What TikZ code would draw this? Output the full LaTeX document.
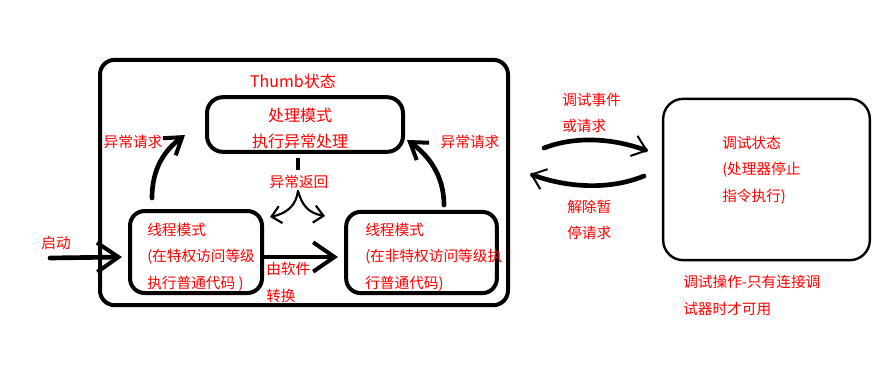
\documentclass[tikz,border=0pt]{standalone}
\usepackage{fontspec}
\newfontfamily\cjk{Noto Sans CJK SC}
\usetikzlibrary{arrows.meta}
\begin{document}
\begin{tikzpicture}[x=0.75pt,y=-0.75pt,
  frame/.style={draw=black,line width=3pt,rounded corners=11pt},
  thinframe/.style={draw=black,line width=1.8pt,rounded corners=15pt},
  label/.style={font=\cjk\fontsize{11}{20}\selectfont,text=red,inner sep=0pt,align=left},
  biglabel/.style={label,font=\cjk\fontsize{12}{20}\selectfont},
  bigarrow/.style={draw=black,line width=3.5pt,line cap=round,
    -{Straight Barb[length=16pt,width=22pt,line width=3pt]}},
  midarrow/.style={draw=black,line width=3.5pt,line cap=round,
    -{Straight Barb[length=12pt,width=16pt,line width=3pt]}},
  smallarrow/.style={draw=black,line width=1.6pt,line cap=round,
    -{Straight Barb[length=7pt,width=13pt,line width=1.6pt]}},
  dbgarrow/.style={draw=black,line width=3.5pt,line cap=round,
    -{Straight Barb[length=10pt,width=16pt,line width=1.5pt]}},
]
\useasboundingbox (0,0) rectangle (879,383);
% boxes
\node[frame,minimum width=306pt,minimum height=184pt] (thumb) at (304,182.5) {};
\node[frame,minimum width=147pt,minimum height=41pt,rounded corners=12pt] (handler) at (305,124.5) {};
\node[frame,minimum width=99pt,minimum height=61.5pt] (priv) at (196,252) {};
\node[frame,minimum width=113pt,minimum height=61pt] (unpriv) at (421.5,252.5) {};
\node[thinframe,minimum width=155pt,minimum height=121pt] (debug) at (766.5,179.5) {};
% texts
\node[biglabel] (thumbtitle) at (293,81) {Thumb状态};
\node[biglabel,align=center] (handlertext) at (300,128.5) {处理模式\\执行异常处理};
\node[label,anchor=west] (privtext) at (147,257) {线程模式\\(在特权访问等级\\执行普通代码 )};
\node[label,anchor=west] (unprivtext) at (365,257) {线程模式\\(在非特权访问等级执\\行普通代码)};
\node[label,anchor=west] (debugtext) at (722,170) {调试状态\\(处理器停止\\指令执行)};
\node[label,anchor=west] (note) at (683,295.5) {调试操作-只有连接调\\试器时才可用};
\node[label] (startlabel) at (56,243) {启动};
\node[label] (exclabelL) at (133,142) {异常请求};
\node[label] (exclabelR) at (470,142) {异常请求};
\node[label] (retlabel) at (299,182) {异常返回};
\node[label,anchor=west] (swlabel) at (266,282.5) {由软件\\转换};
\node[label,anchor=west] (dbgin) at (562,113) {调试事件\\或请求};
\node[label,anchor=west] (dbgout) at (567,220) {解除暂\\停请求};
% connector ends
\coordinate (start) at (50,258);
\coordinate (startend) at (122,257);
\coordinate (upL) at (152,198);
\coordinate (upLend) at (185,135);
\coordinate (upR) at (444,205);
\coordinate (upRend) at (407,140);
\coordinate (retbar) at (298,158);
\coordinate (retbarend) at (298,170);
\coordinate (retsplit) at (298,191);
\coordinate (retL) at (270,217);
\coordinate (retR) at (325,216);
\coordinate (swL) at (263,257);
\coordinate (swR) at (338,257);
\coordinate (toDbg) at (544,148);
\coordinate (toDbgend) at (648,151);
\coordinate (fromDbg) at (644,176);
\coordinate (fromDbgend) at (530,174);
% connectors
\draw[bigarrow] (start) -- (startend);
\draw[midarrow] (upL) .. controls (152,168) and (165,150) .. (upLend);
\draw[midarrow] (upR) .. controls (444,175) and (428,155) .. (upRend);
\draw[draw=black,line width=3pt] (retbar) -- (retbarend);
\draw[smallarrow] (retsplit) .. controls (296,205) and (288,213) .. (retL);
\draw[smallarrow] (retsplit) .. controls (302,205) and (308,213) .. (retR);
\draw[bigarrow] (swL) -- (swR);
\draw[dbgarrow] (toDbg) .. controls (575,136) and (612,138) .. (toDbgend);
\draw[dbgarrow] (fromDbg) .. controls (610,190) and (568,188) .. (fromDbgend);
\end{tikzpicture}
\end{document}
